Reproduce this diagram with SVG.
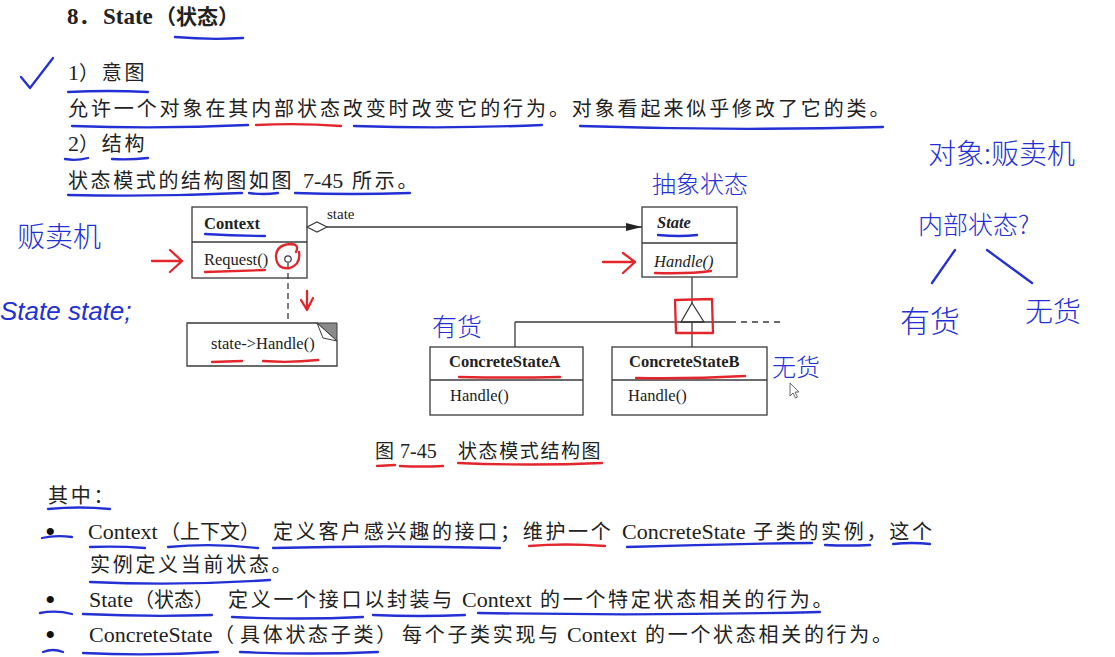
<svg xmlns="http://www.w3.org/2000/svg" width="1115" height="657" viewBox="0 0 1115 657">
<style>
.cj{font-family:"Noto Sans CJK SC",sans-serif;font-size:20px;fill:#222;letter-spacing:2.7px}
.L{font-family:"Liberation Serif","Noto Sans CJK SC",serif;font-size:22px;letter-spacing:0}
.bu{font-family:"Liberation Serif",serif;font-size:30px;fill:#111}
.u{font-family:"Liberation Serif",serif;font-size:16.5px;fill:#222}
.box{fill:#fff;stroke:#3a3a3a;stroke-width:1.3}
.ln{fill:none;stroke:#3a3a3a;stroke-width:1.3}
.hw{font-family:"Noto Sans CJK SC",sans-serif;fill:#2330d4;font-weight:300}
.bl{fill:none;stroke:#2330d4;stroke-width:2.3;stroke-linecap:round;stroke-linejoin:round}
.rd{fill:none;stroke:#e2262b;stroke-width:2.3;stroke-linecap:round;stroke-linejoin:round}
</style>
<defs>
<marker id="ah" viewBox="0 0 16 10" refX="16" refY="5" markerWidth="16" markerHeight="10" markerUnits="userSpaceOnUse" orient="auto"><path d="M0,1 L16,5 L0,9 Z" fill="#222"/></marker>
</defs>
<rect width="1115" height="657" fill="#fff"/>

<!-- title and body text -->
<text class="cj" y="24" style="font-weight:bold;font-size:21px;letter-spacing:0"><tspan class="L" x="67" style="font-size:23px;font-weight:bold">8</tspan><tspan>．</tspan><tspan class="L" x="103" style="font-size:23px;font-weight:bold">State</tspan><tspan x="155">（状态）</tspan></text>
<text class="cj" y="80"><tspan class="L" x="68">1</tspan><tspan>）意图</tspan></text>
<text class="cj" x="68" y="116" style="letter-spacing:2.9px">允许一个对象在其内部状态改变时改变它的行为。对象看起来似乎修改了它的类。</text>
<text class="cj" y="151"><tspan class="L" x="68">2</tspan><tspan>）结构</tspan></text>
<text class="cj" y="188"><tspan x="68" style="letter-spacing:2.6px">状态模式的结构图如图</tspan><tspan class="L" x="303">7-45</tspan><tspan x="352">所示。</tspan></text>

<text class="cj" y="458" style="font-size:19px;letter-spacing:1.6px"><tspan x="375">图</tspan><tspan class="L" x="400" style="font-size:20px">7-45</tspan><tspan x="458">状态模式结构图</tspan></text>

<text class="cj" x="48" y="503">其中：</text>
<text class="bu" x="45" y="542">•</text>
<text class="cj" y="539"><tspan class="L" x="88">Context</tspan><tspan x="160" style="letter-spacing:0">（上下文）</tspan><tspan x="273">定义客户感兴趣的接口；维护一个</tspan><tspan class="L" x="622">ConcreteState</tspan><tspan x="753">子类的实例，这个</tspan></text>
<text class="cj" x="90" y="572">实例定义当前状态。</text>
<text class="bu" x="45" y="610">•</text>
<text class="cj" y="607"><tspan class="L" x="89">State</tspan><tspan x="134" style="letter-spacing:0">（状态）</tspan><tspan x="228">定义一个接口以封装与</tspan><tspan class="L" x="462">Context</tspan><tspan x="540">的一个特定状态相关的行为。</tspan></text>
<text class="bu" x="45" y="645">•</text>
<text class="cj" y="642"><tspan class="L" x="89">ConcreteState</tspan><tspan x="214" style="letter-spacing:0">（</tspan><tspan x="240">具体状态子类）</tspan><tspan x="402">每个子类实现与</tspan><tspan class="L" x="567">Context</tspan><tspan x="645">的一个状态相关的行为。</tspan></text>

<!-- UML nodes -->
<g id="context">
<rect class="box" x="192" y="207" width="115" height="71"/>
<line class="ln" x1="192" y1="242" x2="307" y2="242"/>
<text class="u" x="204" y="229" style="font-weight:bold">Context</text>
<text class="u" x="204" y="265">Request()</text>
<circle cx="288" cy="259" r="3.2" fill="#fff" stroke="#3a3a3a" stroke-width="1.2"/>
</g>
<g id="note">
<path class="box" d="M187,323 L317,323 L337,341 L337,366 L187,366 Z"/>
<path d="M317,323 L337,323 L337,341 Z" fill="#8a8a8a" stroke="#3a3a3a" stroke-width="1"/>
<path d="M317,323 L337,341 L323,338 Z" fill="#fff" stroke="#3a3a3a" stroke-width="1"/>
<text class="u" x="211" y="349">state-&gt;Handle()</text>
</g>
<g id="state">
<rect class="box" x="642" y="207" width="95" height="70"/>
<line class="ln" x1="642" y1="243" x2="737" y2="243"/>
<text class="u" x="657" y="228" style="font-weight:bold;font-style:italic">State</text>
<text class="u" x="654" y="267" style="font-style:italic">Handle()</text>
</g>
<g id="concreteA">
<rect class="box" x="430" y="347" width="153" height="68"/>
<line class="ln" x1="430" y1="380" x2="583" y2="380"/>
<text class="u" x="449" y="367" style="font-weight:bold">ConcreteStateA</text>
<text class="u" x="450" y="401">Handle()</text>
</g>
<g id="concreteB">
<rect class="box" x="612" y="347" width="155" height="68"/>
<line class="ln" x1="612" y1="380" x2="767" y2="380"/>
<text class="u" x="629" y="367" style="font-weight:bold">ConcreteStateB</text>
<text class="u" x="628" y="401">Handle()</text>
</g>

<!-- connectors -->
<g id="connectors">
<path d="M307,227 L317,222 L327,227 L317,232 Z" fill="#fff" stroke="#3a3a3a" stroke-width="1.2"/>
<line class="ln" x1="327" y1="227" x2="642" y2="227" marker-end="url(#ah)"/>
<text class="u" x="327" y="219" style="font-size:15px">state</text>
<line class="ln" x1="288" y1="263" x2="288" y2="323" stroke-dasharray="6,4"/>
<line class="ln" x1="692" y1="277" x2="692" y2="303"/>
<path d="M692,303 L704,322 L681,322 Z" fill="#fff" stroke="#3a3a3a" stroke-width="1.3"/>
<line class="ln" x1="515" y1="322" x2="730" y2="322"/>
<line class="ln" x1="730" y1="322" x2="782" y2="322" stroke-dasharray="6,5"/>
<line class="ln" x1="692" y1="322" x2="692" y2="347"/>
<line class="ln" x1="515" y1="322" x2="515" y2="347"/>
</g>

<!-- annotations -->
<g id="annotations">
<path class="bl" d="M21,77 L30,88 L53,58"/>
<path class="bl" d="M175,37 Q210,40 243,38"/>
<path class="bl" d="M68,92 Q108,90 148,92"/>
<path class="bl" d="M72,126 Q160,129 248,125"/>
<path class="rd" d="M256,125 Q300,123 341,126"/>
<path class="bl" d="M354,126 Q450,129 542,125"/>
<path class="bl" d="M580,126 Q730,131 883,127"/>
<path class="bl" d="M65,159 Q76,161 88,158"/>
<path class="bl" d="M112,159 Q130,160 148,158"/>
<path class="bl" d="M68,195 Q155,197 242,193"/>
<path class="bl" d="M249,193 Q263,195 278,193"/>
<path class="bl" d="M295,193 Q352,195 410,193"/>
<path class="bl" d="M205,234 Q235,236 265,236"/>
<path class="rd" d="M205,272 Q235,271 265,270"/>
<path class="rd" d="M296,252 Q300,244 290,244 Q276,245 276,257 Q277,270 290,268 Q301,264 299,252"/>
<path class="rd" d="M152,261 L182,261 M170,250 L182,261 L170,272"/>
<path class="rd" d="M307,291 L307,309 M301,300 L307,310 L313,298"/>
<path class="rd" d="M212,362 L242,361"/>
<path class="rd" d="M263,361 Q290,363 318,360"/>
<path class="bl" d="M658,235 Q680,237 697,235"/>
<path class="rd" d="M655,273 Q690,274 711,271"/>
<path class="rd" d="M603,262 L635,262 M623,253 L635,262 L623,273"/>
<path class="rd" d="M675,300 L712,299 L713,333 L676,333 Z"/>
<path class="rd" d="M459,377 Q510,378 560,377"/>
<path class="rd" d="M636,378 Q690,379 745,376"/>
<path class="rd" d="M377,466 L395,465"/>
<path class="rd" d="M400,466 Q420,467 443,466"/>
<path class="rd" d="M458,463 Q530,466 602,463"/>
<path class="bl" d="M48,509 Q79,506 110,509"/>
<path class="bl" d="M42,538 Q55,535 72,537"/>
<path class="bl" d="M90,547 Q118,546 145,548"/>
<path class="bl" d="M168,547 Q213,543 258,548"/>
<path class="bl" d="M273,548 Q385,545 500,548"/>
<path class="rd" d="M529,546 Q565,543 605,546"/>
<path class="bl" d="M627,547 Q720,544 812,543"/>
<path class="bl" d="M825,545 Q848,546 870,545"/>
<path class="bl" d="M893,544 Q912,542 930,544"/>
<path class="bl" d="M90,582 Q180,586 270,580"/>
<path class="bl" d="M40,613 Q56,610 72,614"/>
<path class="bl" d="M83,614 Q148,617 212,615"/>
<path class="bl" d="M232,617 Q298,620 363,617"/>
<path class="bl" d="M373,615 Q419,617 465,615"/>
<path class="bl" d="M478,613 Q650,616 820,612"/>
<path class="bl" d="M43,652 Q53,648 63,652"/>
<path class="bl" d="M83,653 Q150,656 218,652"/>
<path class="bl" d="M240,652 Q309,655 378,652"/>
<path class="bl" d="M955,250 L932,283"/>
<path class="bl" d="M987,250 L1032,283"/>
<text class="hw" x="17" y="247" style="font-size:28px">贩卖机</text>
<text class="hw" x="0" y="320" style="font-size:26px;font-family:'Liberation Sans',sans-serif;font-style:italic">State state;</text>
<text class="hw" x="652" y="193" style="font-size:24px">抽象状态</text>
<text class="hw" x="928" y="164" style="font-size:28px">对象:贩卖机</text>
<text class="hw" x="918" y="234" style="font-size:25px">内部状态?</text>
<text class="hw" x="900" y="332" style="font-size:30px">有货</text>
<text class="hw" x="1025" y="322" style="font-size:28px">无货</text>
<text class="hw" x="432" y="336" style="font-size:25px">有货</text>
<text class="hw" x="772" y="376" style="font-size:24px">无货</text>
<path d="M790,383 L790,396 L793,393 L795.5,398 L797.5,397 L795,392 L799,392 Z" fill="#fff" stroke="#444" stroke-width="0.8"/>
</g>
</svg>
